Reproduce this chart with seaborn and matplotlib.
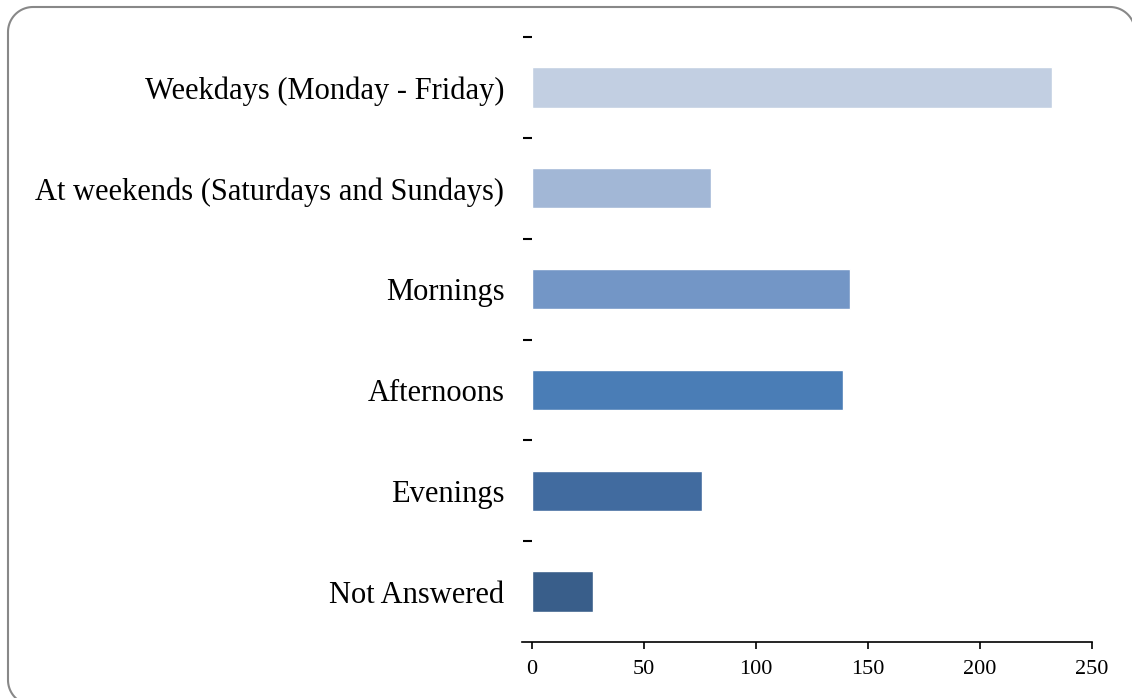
import numpy as np
import pandas as pd
import matplotlib.pyplot as plt
import seaborn as sns
from matplotlib.lines import Line2D

# data
categories = ["Weekdays (Monday - Friday)", "At weekends (Saturdays and Sundays)",
              "Mornings", "Afternoons", "Evenings", "Not Answered"]
counts = [232, 80, 142, 139, 76, 27]
colours = ["#c2cfe2", "#a2b7d6", "#7396c6", "#4a7db6", "#416b9f", "#395e8a"]
xticks = [0, 50, 100, 150, 200, 250]

df = pd.DataFrame({"category": categories, "count": counts})

sns.set_style("white")
plt.rcParams['font.family'] = ['Liberation Serif', 'DejaVu Serif']

W, H = 1132, 698
fig = plt.figure(figsize=(W / 100, H / 100), dpi=100)
ax = fig.add_axes([0.470, 0.0802, 0.4947, 0.8668])

sns.barplot(data=df, x="count", y="category", hue="category", palette=colours,
            legend=False, width=0.4, saturation=1, ax=ax)

ax.set_xlim(0, 250)
ax.set_ylim(5.5, -0.5)
ax.set_xticks(xticks)
ax.set_xlabel("")
ax.set_ylabel("")

# category ticks sit between the bars
ax.set_yticks(np.arange(len(categories)))
ax.set_yticks(np.arange(-0.5, len(categories) - 1), minor=True)
ax.tick_params(axis="y", which="major", length=0, pad=20, labelsize=22,
               labelcolor="black")
ax.tick_params(axis="y", which="minor", left=True, length=6.5, width=1.5, color="black")
ax.tick_params(axis="x", bottom=True, length=5, width=1.2, color="black",
               labelsize=16, pad=8, labelcolor="black")

for side in ["top", "right", "left"]:
    ax.spines[side].set_visible(False)
ax.spines["bottom"].set_color("black")
ax.spines["bottom"].set_linewidth(1.2)
ax.spines["bottom"].set_bounds(-4.5, 250)

# rounded frame, cut off at the right and bottom edges of the image
r = 25
left, top, right, bottom = 8, 7, 1135, 705
def arc(cx, cy, a0, a1):
    t = np.radians(np.linspace(a0, a1, 20))
    return cx + r * np.cos(t), cy - r * np.sin(t)

pieces = [arc(left + r, bottom - r, 270, 180),
          arc(left + r, top + r, 180, 90),
          arc(right - r, top + r, 90, 0)]
px = np.concatenate([p[0] for p in pieces] + [[right]])
py = np.concatenate([p[1] for p in pieces] + [[bottom]])
fig.add_artist(Line2D(px / W, 1 - py / H, transform=fig.transFigure,
                      color="#888888", linewidth=1.5))

fig.savefig("out.png", dpi=100)
